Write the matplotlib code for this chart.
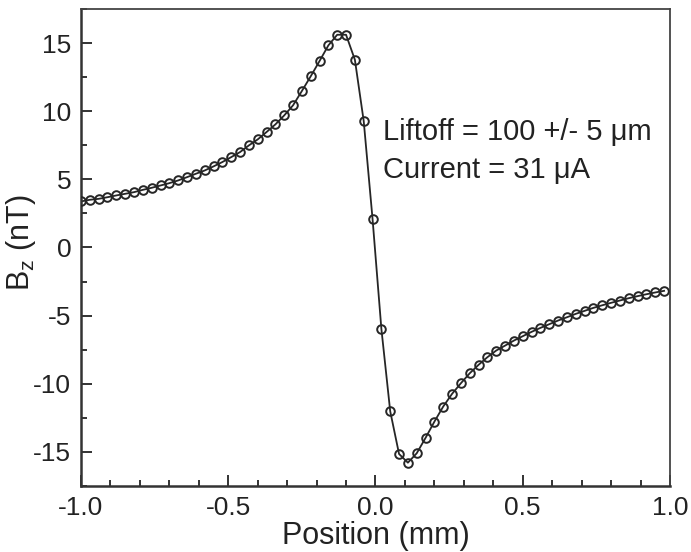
import matplotlib
matplotlib.use("Agg")
import matplotlib.pyplot as plt
from matplotlib.ticker import MultipleLocator

plt.rcParams['font.family'] = ['Liberation Sans', 'DejaVu Sans']
plt.rcParams['axes.unicode_minus'] = False

# position of each measured point (mm)
position = [-1.00, -0.97, -0.94, -0.91, -0.88, -0.85, -0.82, -0.79, -0.76, -0.73,
            -0.70, -0.67, -0.64, -0.61, -0.58, -0.55, -0.52, -0.49, -0.46, -0.43,
            -0.40, -0.37, -0.34, -0.31, -0.28, -0.25, -0.22, -0.19, -0.16, -0.13,
            -0.10, -0.07, -0.04, -0.01, 0.02, 0.05, 0.08, 0.11, 0.14, 0.17,
            0.20, 0.23, 0.26, 0.29, 0.32, 0.35, 0.38, 0.41, 0.44, 0.47,
            0.50, 0.53, 0.56, 0.59, 0.62, 0.65, 0.68, 0.71, 0.74, 0.77,
            0.80, 0.83, 0.86, 0.89, 0.92, 0.95, 0.98]

# measured Bz (nT)
bz = [3.38, 3.50, 3.57, 3.69, 3.82, 3.94, 4.06, 4.23, 4.38, 4.55,
      4.72, 4.92, 5.16, 5.41, 5.65, 5.95, 6.27, 6.63, 7.00, 7.49,
      7.93, 8.47, 9.03, 9.69, 10.43, 11.48, 12.56, 13.68, 14.83, 15.61,
      15.61, 13.78, 9.28, 2.10, -5.97, -12.02, -15.15, -15.79, -15.10, -13.97,
      -12.78, -11.67, -10.74, -9.96, -9.23, -8.61, -8.05, -7.56, -7.20, -6.83,
      -6.51, -6.19, -5.90, -5.63, -5.36, -5.12, -4.87, -4.65, -4.43, -4.24,
      -4.06, -3.89, -3.72, -3.57, -3.43, -3.30, -3.18]

fig = plt.figure(figsize=(6.91, 5.52), dpi=100)
ax = fig.add_axes([0.1172, 0.1196, 0.8524, 0.8641])

ink = '#262626'
ax.plot(position, bz, color=ink, lw=1.3, zorder=2)
ax.plot(position, bz, 'o', ms=6.2, mfc='none', mec=ink, mew=1.4, zorder=3)

ax.set_xlim(-1.0, 1.0)
ax.set_ylim(-17.5, 17.5)
ax.xaxis.set_major_locator(MultipleLocator(0.5))
ax.xaxis.set_minor_locator(MultipleLocator(0.1))
ax.yaxis.set_major_locator(MultipleLocator(5))
ax.yaxis.set_minor_locator(MultipleLocator(2.5))
ax.xaxis.set_major_formatter(matplotlib.ticker.FormatStrFormatter('%.1f'))

ax.tick_params(which='both', direction='in', top=False, right=False,
               color='#333333', width=1.4, labelsize=19, labelcolor='#222222', pad=7)
ax.tick_params(which='major', length=8)
ax.tick_params(which='minor', length=4)

for side in ['left', 'bottom']:
    ax.spines[side].set_linewidth(1.8)
    ax.spines[side].set_color('#333333')
for side in ['top', 'right']:
    ax.spines[side].set_linewidth(1.3)
    ax.spines[side].set_color('#444444')

ax.set_xlabel('Position (mm)', fontsize=22, color='#222222', labelpad=1)
ax.set_ylabel(r'$\mathregular{B_z}$ (nT)', fontsize=22, color='#222222')
ax.yaxis.set_label_coords(-0.073, 0.51)

ax.text(0.026, 7.86, 'Liftoff = 100 +/- 5 \u03bcm', fontsize=21, color='#222222', va='baseline')
ax.text(0.026, 5.07, 'Current = 31 \u03bcA', fontsize=21, color='#222222', va='baseline')

fig.savefig('out.png', dpi=100)
